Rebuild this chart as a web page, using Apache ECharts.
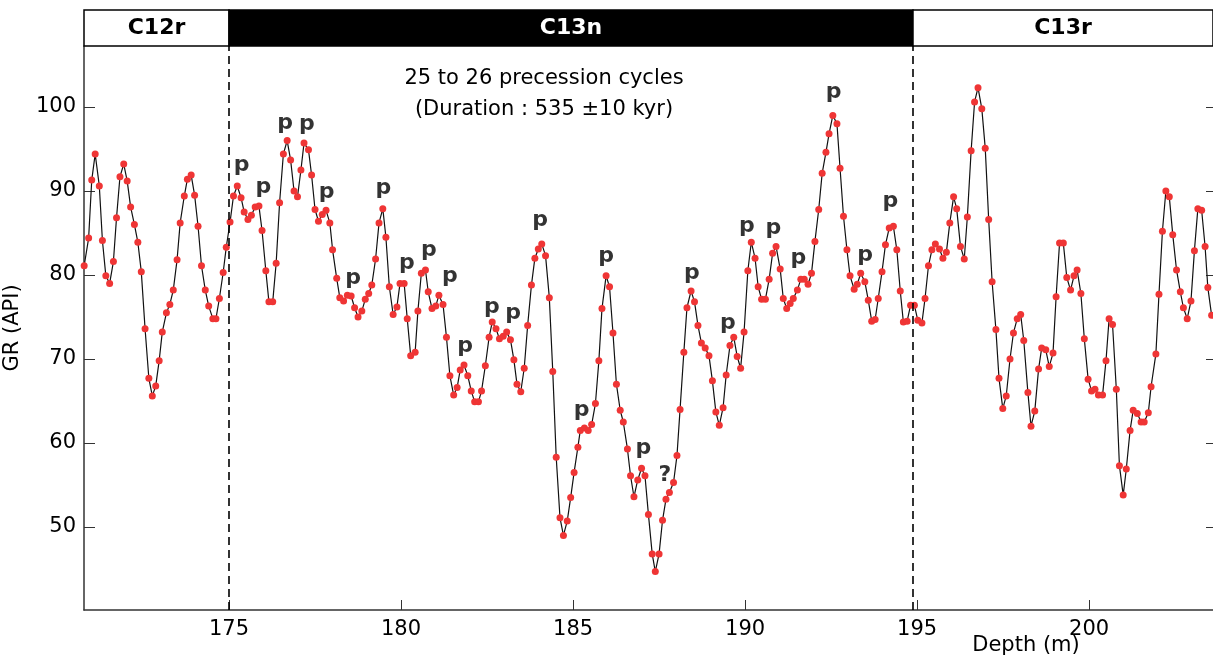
<!DOCTYPE html>
<html>
<head>
<meta charset="utf-8">
<script src="https://cdn.jsdelivr.net/npm/echarts@6/dist/echarts.min.js"></script>
<style>
  html, body { margin: 0; padding: 0; background: #fff; }
  #chart-container { width: 1213px; height: 662px; }
</style>
</head>
<body>
<div id="chart-container"></div>
<script>
var depth = [
  170.79, 170.92, 171.01, 171.11, 171.23, 171.32, 171.42, 171.53, 171.64, 171.73,
  171.83, 171.94, 172.04, 172.14, 172.25, 172.35, 172.45, 172.56, 172.67, 172.77,
  172.87, 172.97, 173.06, 173.18, 173.28, 173.38, 173.49, 173.58, 173.70, 173.79,
  173.90, 174.00, 174.10, 174.20, 174.31, 174.41, 174.53, 174.62, 174.72, 174.83,
  174.92, 175.03, 175.13, 175.24, 175.35, 175.44, 175.55, 175.65, 175.76, 175.87,
  175.96, 176.07, 176.16, 176.27, 176.37, 176.47, 176.58, 176.69, 176.79, 176.89,
  176.99, 177.09, 177.18, 177.31, 177.40, 177.50, 177.60, 177.71, 177.82, 177.93,
  178.01, 178.13, 178.22, 178.33, 178.44, 178.55, 178.65, 178.75, 178.86, 178.96,
  179.06, 179.15, 179.26, 179.36, 179.47, 179.56, 179.66, 179.77, 179.88, 179.97,
  180.09, 180.18, 180.28, 180.41, 180.49, 180.59, 180.71, 180.79, 180.90, 181.01,
  181.10, 181.22, 181.32, 181.42, 181.53, 181.63, 181.72, 181.83, 181.94, 182.04,
  182.14, 182.25, 182.34, 182.45, 182.56, 182.65, 182.76, 182.86, 182.97, 183.07,
  183.18, 183.28, 183.37, 183.48, 183.58, 183.68, 183.79, 183.89, 183.99, 184.09,
  184.20, 184.31, 184.41, 184.51, 184.62, 184.72, 184.83, 184.93, 185.03, 185.14,
  185.21, 185.33, 185.44, 185.54, 185.65, 185.75, 185.84, 185.96, 186.06, 186.16,
  186.26, 186.37, 186.46, 186.58, 186.67, 186.77, 186.88, 186.99, 187.09, 187.19,
  187.30, 187.39, 187.50, 187.60, 187.70, 187.80, 187.92, 188.02, 188.11, 188.22,
  188.31, 188.43, 188.53, 188.63, 188.73, 188.84, 188.95, 189.05, 189.15, 189.25,
  189.36, 189.45, 189.56, 189.67, 189.77, 189.87, 189.97, 190.08, 190.18, 190.29,
  190.38, 190.48, 190.59, 190.70, 190.80, 190.90, 191.02, 191.11, 191.21, 191.31,
  191.40, 191.52, 191.62, 191.72, 191.83, 191.93, 192.03, 192.14, 192.24, 192.35,
  192.44, 192.55, 192.67, 192.76, 192.86, 192.96, 193.05, 193.17, 193.26, 193.36,
  193.48, 193.58, 193.68, 193.78, 193.87, 193.98, 194.08, 194.19, 194.31, 194.41,
  194.51, 194.60, 194.71, 194.81, 194.92, 195.02, 195.14, 195.23, 195.33, 195.43,
  195.53, 195.65, 195.75, 195.85, 195.95, 196.06, 196.15, 196.26, 196.37, 196.46,
  196.57, 196.67, 196.77, 196.88, 196.98, 197.08, 197.18, 197.29, 197.38, 197.49,
  197.59, 197.70, 197.80, 197.91, 198.01, 198.10, 198.22, 198.31, 198.42, 198.53,
  198.62, 198.74, 198.84, 198.95, 199.04, 199.14, 199.25, 199.35, 199.46, 199.56,
  199.65, 199.76, 199.86, 199.97, 200.07, 200.17, 200.27, 200.39, 200.49, 200.58,
  200.68, 200.79, 200.88, 200.99, 201.08, 201.19, 201.28, 201.40, 201.51, 201.60,
  201.72, 201.80, 201.94, 202.03, 202.13, 202.23, 202.33, 202.43, 202.54, 202.65,
  202.74, 202.85, 202.96, 203.06, 203.16, 203.27, 203.37, 203.45, 203.56
];
var gr = [
  81.1, 84.4, 91.3, 94.4, 90.6, 84.1, 79.9, 79.0, 81.6, 86.8,
  91.7, 93.2, 91.2, 88.1, 86.0, 83.9, 80.4, 73.6, 67.7, 65.6,
  66.8, 69.8, 73.2, 75.5, 76.5, 78.2, 81.8, 86.2, 89.4, 91.4,
  91.9, 89.5, 85.8, 81.1, 78.2, 76.3, 74.8, 74.8, 77.2, 80.3,
  83.3, 86.3, 89.4, 90.6, 89.2, 87.5, 86.6, 87.1, 88.1, 88.2,
  85.3, 80.5, 76.8, 76.8, 81.4, 88.6, 94.4, 96.0, 93.7, 90.0,
  89.3, 92.5, 95.7, 94.9, 91.9, 87.8, 86.4, 87.2, 87.7, 86.2,
  83.0, 79.6, 77.3, 76.9, 77.6, 77.5, 76.1, 75.0, 75.7, 77.1,
  77.8, 78.8, 81.9, 86.2, 87.9, 84.5, 78.6, 75.3, 76.2, 79.0,
  79.0, 74.8, 70.4, 70.8, 75.7, 80.2, 80.6, 78.0, 76.0, 76.3,
  77.6, 76.5, 72.6, 68.0, 65.7, 66.6, 68.7, 69.3, 68.0, 66.2,
  64.9, 64.9, 66.2, 69.2, 72.6, 74.4, 73.6, 72.4, 72.7, 73.2,
  72.3, 69.9, 67.0, 66.1, 68.9, 74.0, 78.8, 82.0, 83.1, 83.7,
  82.3, 77.3, 68.5, 58.3, 51.1, 49.0, 50.7, 53.5, 56.5, 59.5,
  61.5, 61.8, 61.5, 62.2, 64.7, 69.8, 76.0, 79.9, 78.6, 73.1,
  67.0, 63.9, 62.5, 59.3, 56.1, 53.6, 55.6, 57.0, 56.1, 51.5,
  46.8, 44.7, 46.8, 50.8, 53.3, 54.1, 55.3, 58.5, 64.0, 70.8,
  76.1, 78.1, 76.8, 74.0, 71.9, 71.3, 70.4, 67.4, 63.7, 62.1,
  64.2, 68.1, 71.6, 72.6, 70.3, 68.9, 73.2, 80.5, 83.9, 82.0,
  78.6, 77.1, 77.1, 79.5, 82.6, 83.4, 80.7, 77.2, 76.0, 76.6,
  77.2, 78.2, 79.5, 79.5, 78.9, 80.2, 84.0, 87.8, 92.1, 94.6,
  96.8, 99.0, 98.0, 92.7, 87.0, 83.0, 79.9, 78.3, 78.9, 80.2,
  79.2, 77.0, 74.5, 74.7, 77.2, 80.4, 83.6, 85.6, 85.8, 83.0,
  78.1, 74.4, 74.5, 76.4, 76.4, 74.6, 74.3, 77.2, 81.1, 83.0,
  83.7, 83.1, 82.0, 82.7, 86.2, 89.3, 87.9, 83.4, 81.9, 86.9,
  94.8, 100.6, 102.3, 99.8, 95.1, 86.6, 79.2, 73.5, 67.7, 64.1,
  65.6, 70.0, 73.1, 74.8, 75.3, 72.2, 66.0, 62.0, 63.8, 68.8,
  71.3, 71.1, 69.1, 70.7, 77.4, 83.8, 83.8, 79.7, 78.2, 79.9,
  80.6, 77.8, 72.4, 67.6, 66.2, 66.4, 65.7, 65.7, 69.8, 74.8,
  74.1, 66.4, 57.3, 53.8, 56.9, 61.5, 63.9, 63.5, 62.5, 62.5,
  63.6, 66.7, 70.6, 77.7, 85.2, 90.0, 89.3, 84.8, 80.6, 78.0,
  76.1, 74.8, 76.9, 82.9, 87.9, 87.7, 83.4, 78.5, 75.2
];

// precession peak marks: depth, GR, text
var peakDepth = [175.37, 176.00, 176.63, 177.26, 177.84, 178.61, 179.49, 180.17, 180.81, 181.42,
  181.86, 182.64, 183.26, 184.04, 185.25, 185.96, 187.04, 187.67, 188.45, 189.50,
  190.05, 190.82, 191.55, 192.57, 193.49, 194.22];
var peakGr = [93.1, 90.5, 98.1, 97.9, 89.9, 79.6, 90.3, 81.4, 83.0, 79.8,
  71.5, 76.2, 75.4, 86.5, 63.9, 82.2, 59.4, 56.2, 80.2, 74.2,
  85.8, 85.6, 82.0, 101.8, 82.4, 88.8];
var peakText = ['p', 'p', 'p', 'p', 'p', 'p', 'p', 'p', 'p', 'p',
  'p', 'p', 'p', 'p', 'p', 'p', 'p', '?', 'p', 'p',
  'p', 'p', 'p', 'p', 'p', 'p'];

// magnetic chrons
var chronBounds = [170.785, 175.0, 194.88, 203.6];
var chronNames = ['C12r', 'C13n', 'C13r'];
var chronFill = ['#fff', '#000', '#fff'];
var chronText = ['#000', '#fff', '#000'];

var xTicks = [175, 180, 185, 190, 195, 200];
var yTicks = [50, 60, 70, 80, 90, 100];

var font = 'DejaVu Sans';

var chartDom = document.getElementById('chart-container');
var myChart = echarts.init(chartDom);

var logData = depth.map(function (d, i) { return [d, gr[i]]; });
var peakData = peakDepth.map(function (d, i) { return [d, peakGr[i], peakText[i]]; });

var chronAreas = chronNames.map(function (name, i) {
  return [
    {
      name: name,
      xAxis: chronBounds[i],
      itemStyle: { color: chronFill[i], borderColor: '#000', borderWidth: 1.5 },
      label: { color: chronText[i] }
    },
    { xAxis: chronBounds[i + 1] }
  ];
});

var option = {
  animation: false,
  textStyle: { fontFamily: font },
  grid: [
    { left: 84, right: 0, top: 46, bottom: 52, outerBoundsMode: 'none', containLabel: false },
    { left: 84, right: 0, top: 10, height: 36, outerBoundsMode: 'none', containLabel: false }
  ],
  xAxis: [
    {
      type: 'value', gridIndex: 0,
      min: chronBounds[0], max: chronBounds[3],
      axisLine: { lineStyle: { color: '#333', width: 1.5 } },
      axisTick: { inside: true, length: 10, customValues: xTicks, lineStyle: { color: '#333' } },
      axisLabel: { customValues: xTicks, fontSize: 21, color: '#000', margin: 9, fontFamily: font },
      splitLine: { show: false }
    },
    {
      type: 'value', gridIndex: 1,
      min: chronBounds[0], max: chronBounds[3],
      show: false
    }
  ],
  yAxis: [
    {
      type: 'value', gridIndex: 0,
      min: 40.12, max: 107.26,
      name: 'GR (API)', nameLocation: 'middle', nameGap: 61,
      nameTextStyle: { fontSize: 21, color: '#000', fontFamily: font },
      axisLine: { show: true, lineStyle: { color: '#333', width: 1.5 } },
      axisTick: { show: true, inside: true, length: 11, customValues: yTicks, lineStyle: { color: '#333' } },
      axisLabel: { customValues: yTicks, fontSize: 21, color: '#000', margin: 8, fontFamily: font },
      splitLine: { show: false }
    },
    {
      type: 'value', gridIndex: 0, position: 'right',
      min: 40.12, max: 107.26,
      axisLine: { show: false },
      axisTick: { show: true, inside: true, length: 7, customValues: yTicks, lineStyle: { color: '#333' } },
      axisLabel: { show: false },
      splitLine: { show: false }
    },
    {
      type: 'value', gridIndex: 1,
      min: 0, max: 1, show: false
    }
  ],
  graphic: [
    {
      type: 'text', x: 544, y: 79,
      style: { text: '25 to 26 precession cycles', font: '21px "DejaVu Sans"', fill: '#000', textAlign: 'center', textVerticalAlign: 'middle' }
    },
    {
      type: 'text', x: 544, y: 110,
      style: { text: '(Duration : 535 \u00b110 kyr)', font: '21px "DejaVu Sans"', fill: '#000', textAlign: 'center', textVerticalAlign: 'middle' }
    },
    {
      type: 'text', x: 1026, y: 646,
      style: { text: 'Depth (m)', font: '21px "DejaVu Sans"', fill: '#000', textAlign: 'center', textVerticalAlign: 'middle' }
    }
  ],
  series: [
    {
      name: 'chrons',
      type: 'line',
      xAxisIndex: 1, yAxisIndex: 2,
      data: [],
      silent: true,
      markArea: {
        silent: true,
        label: { show: true, position: 'inside', fontSize: 22, fontWeight: 'bold', fontFamily: font },
        data: chronAreas
      }
    },
    {
      name: 'GR',
      type: 'line',
      xAxisIndex: 0, yAxisIndex: 0,
      data: logData,
      symbol: 'circle',
      symbolSize: 7,
      showAllSymbol: true,
      itemStyle: { color: '#ef3535' },
      lineStyle: { color: '#111', width: 1.2 },
      z: 3,
      markLine: {
        silent: true,
        symbol: ['none', 'none'],
        label: { show: false },
        lineStyle: { color: '#000', type: [8, 5], width: 1.6 },
        data: [{ xAxis: chronBounds[1] }, { xAxis: chronBounds[2] }]
      }
    },
    {
      name: 'peaks',
      type: 'scatter',
      xAxisIndex: 0, yAxisIndex: 0,
      data: peakData,
      symbolSize: 0,
      silent: true,
      z: 4,
      label: {
        show: true,
        position: 'inside',
        formatter: function (p) { return p.value[2]; },
        fontSize: 22,
        fontWeight: 'bold',
        color: '#000',
        fontFamily: font
      }
    }
  ]
};

option && myChart.setOption(option);
</script>
</body>
</html>
